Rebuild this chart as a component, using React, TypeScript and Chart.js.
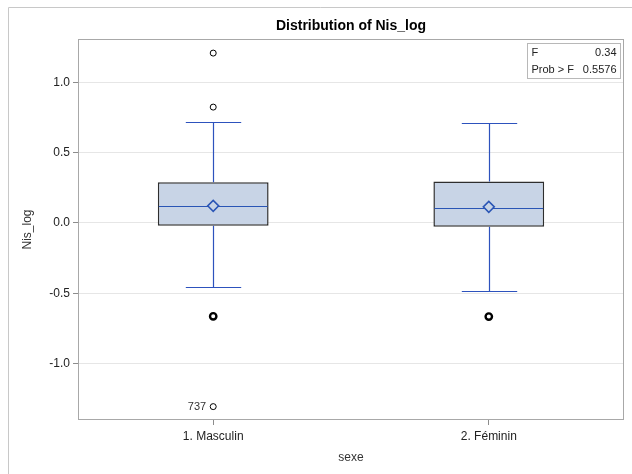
import React, { useEffect, useRef } from 'react';
import { Chart, registerables } from 'chart.js';

Chart.register(...registerables);

// ---- data ----
const categories = ['1. Masculin', '2. Féminin'];
const q1 = [-0.021, -0.028];
const q3 = [0.289, 0.294];
const medians = [0.118, 0.103];
const means = [0.121, 0.114];
const whiskerLow = [-0.455, -0.484];
const whiskerHigh = [0.72, 0.711];
const outliersMasculin = [1.207, 0.823, -1.306];
const outliersFeminin: number[] = [];
// tied observations (several points plotted on top of each other)
const tiedOutliersMasculin = [-0.664];
const tiedOutliersFeminin = [-0.666];
const outlierIdLabel = { category: 1, value: -1.306, text: '737' };
const yTicks = [-1.0, -0.5, 0.0, 0.5, 1.0];
const yMin = -1.394;
const yMax = 1.3;
const xMin = 0.513;
const xMax = 2.487;
const fValue = '0.34';
const probF = '0.5576';
const titleText = 'Distribution of Nis_log';
const yTitle = 'Nis_log';
const xTitle = 'sexe';

const FONT = '"Liberation Sans", Arial, Helvetica, sans-serif';

export default function App() {
  const ref = useRef<HTMLCanvasElement>(null);

  useEffect(() => {
    if (!ref.current) return;
    const xs = categories.map((_, i) => i + 1);

    const toPoints = (vals: number[], x: number) => vals.map((v) => ({ x, y: v }));

    const boxPlugin = {
      id: 'boxParts',
      afterDatasetDraw(chart: any, args: any) {
        if (args.index !== 0) return;
        const ctx = chart.ctx;
        const xS = chart.scales.x;
        const yS = chart.scales.y;
        const meta = chart.getDatasetMeta(0);
        ctx.save();
        for (let i = 0; i < xs.length; i++) {
          const bar = meta.data[i];
          const w = bar.width;
          const cx = Math.round(xS.getPixelForValue(xs[i])) + 0.5;
          const yq3 = yS.getPixelForValue(q3[i]);
          const yq1 = yS.getPixelForValue(q1[i]);
          const yHi = Math.round(yS.getPixelForValue(whiskerHigh[i])) + 0.5;
          const yLo = Math.round(yS.getPixelForValue(whiskerLow[i])) + 0.5;
          ctx.strokeStyle = '#2d52bd';
          ctx.lineWidth = 1.2;
          ctx.beginPath();
          ctx.moveTo(cx, yq3);
          ctx.lineTo(cx, yHi);
          ctx.moveTo(cx, yq1);
          ctx.lineTo(cx, yLo);
          ctx.moveTo(cx - w / 4, yHi);
          ctx.lineTo(cx + w / 4, yHi);
          ctx.moveTo(cx - w / 4, yLo);
          ctx.lineTo(cx + w / 4, yLo);
          ctx.stroke();
          const ym = Math.round(yS.getPixelForValue(medians[i])) + 0.5;
          ctx.strokeStyle = '#2a55b5';
          ctx.lineWidth = 1.2;
          ctx.beginPath();
          ctx.moveTo(bar.x - w / 2 + 1, ym);
          ctx.lineTo(bar.x + w / 2 - 1, ym);
          ctx.stroke();
        }
        ctx.restore();
      },
      afterDraw(chart: any) {
        const ctx = chart.ctx;
        const a = chart.chartArea;
        const xS = chart.scales.x;
        const yS = chart.scales.y;
        ctx.save();
        // outer frame
        ctx.strokeStyle = '#c8c8c8';
        ctx.lineWidth = 1;
        ctx.beginPath();
        ctx.moveTo(8.5, 474);
        ctx.lineTo(8.5, 7.5);
        ctx.lineTo(632, 7.5);
        ctx.stroke();
        // plot frame
        ctx.strokeStyle = '#a8a8a8';
        ctx.strokeRect(a.left - 0.5, a.top - 0.5, a.right - a.left + 1, a.bottom - a.top + 1);
        // title
        ctx.fillStyle = '#000';
        ctx.font = `bold 14px ${FONT}`;
        ctx.textAlign = 'center';
        ctx.textBaseline = 'middle';
        ctx.fillText(titleText, (a.left + a.right) / 2, 26);
        // axis titles
        ctx.font = `12px ${FONT}`;
        ctx.fillStyle = '#333';
        ctx.fillText(xTitle, (a.left + a.right) / 2, 458);
        ctx.save();
        ctx.translate(28, (a.top + a.bottom) / 2);
        ctx.rotate(-Math.PI / 2);
        ctx.fillText(yTitle, 0, 0);
        ctx.restore();
        // inset statistics box
        const bx = 527.5, by = 43.5, bw = 93, bh = 35;
        ctx.fillStyle = '#fff';
        ctx.fillRect(bx, by, bw, bh);
        ctx.strokeStyle = '#b8b8b8';
        ctx.strokeRect(bx, by, bw, bh);
        ctx.fillStyle = '#222';
        ctx.font = `11px ${FONT}`;
        ctx.textAlign = 'left';
        ctx.fillText('F', bx + 4, by + 9);
        ctx.fillText('Prob > F', bx + 4, by + 26);
        ctx.textAlign = 'right';
        ctx.fillText(fValue, bx + bw - 4, by + 9);
        ctx.fillText(probF, bx + bw - 4, by + 26);
        // outlier id label
        const px = xS.getPixelForValue(outlierIdLabel.category);
        const py = yS.getPixelForValue(outlierIdLabel.value);
        ctx.fillStyle = '#333';
        ctx.font = `11px ${FONT}`;
        ctx.textAlign = 'right';
        ctx.fillText(outlierIdLabel.text, px - 7, py);
        ctx.restore();
      },
    };

    const chart = new Chart(ref.current, {
      type: 'bar',
      data: {
        datasets: [
          {
            type: 'bar',
            data: xs.map((x, i) => ({ x, y: [q1[i], q3[i]] })) as any,
            backgroundColor: '#c8d4e6',
            borderColor: '#2e2e2e',
            borderWidth: 1.5,
            borderSkipped: false,
            barPercentage: 0.402,
            categoryPercentage: 1,
            order: 3,
          } as any,
          {
            type: 'scatter',
            data: means.map((m, i) => ({ x: xs[i], y: m })),
            pointStyle: 'rectRot',
            pointRadius: 5.5,
            pointBorderColor: '#2a55b5',
            pointBackgroundColor: 'rgba(200,212,230,1)',
            pointBorderWidth: 1.5,
            order: 2,
          } as any,
          {
            type: 'scatter',
            data: [...toPoints(outliersMasculin, 1), ...toPoints(outliersFeminin, 2)],
            pointStyle: 'circle',
            pointRadius: 3,
            pointBorderColor: '#000',
            pointBackgroundColor: '#fff',
            pointBorderWidth: 1,
            order: 1,
          } as any,
          {
            type: 'scatter',
            data: [...toPoints(tiedOutliersMasculin, 1), ...toPoints(tiedOutliersFeminin, 2)],
            pointStyle: 'circle',
            pointRadius: 3.2,
            pointBorderColor: '#000',
            pointBackgroundColor: '#fff',
            pointBorderWidth: 2.4,
            order: 0,
          } as any,
        ],
      },
      options: {
        animation: false,
        responsive: false,
        events: [],
        layout: { padding: { left: 0, right: 9, top: 40, bottom: 0 } },
        plugins: { legend: { display: false }, tooltip: { enabled: false }, title: { display: false } },
        scales: {
          x: {
            type: 'linear',
            min: xMin,
            max: xMax,
            offset: false,
            grid: { offset: false, drawOnChartArea: false, tickLength: 6, tickColor: '#8c8c8c' },
            border: { display: false },
            afterBuildTicks: (s: any) => {
              s.ticks = xs.map((v) => ({ value: v }));
            },
            afterFit: (s: any) => {
              s.height = 55;
            },
            ticks: {
              callback: (v: any) => categories[Number(v) - 1] ?? '',
              font: { family: FONT, size: 12 },
              color: '#222',
              padding: 4,
              maxRotation: 0,
              autoSkip: false,
            },
          },
          y: {
            type: 'linear',
            min: yMin,
            max: yMax,
            grid: { color: '#e6e6e6', tickLength: 6, tickColor: '#8c8c8c' },
            border: { display: false },
            afterBuildTicks: (s: any) => {
              s.ticks = yTicks.map((v) => ({ value: v }));
            },
            afterFit: (s: any) => {
              s.width = 79;
            },
            ticks: {
              callback: (v: any) => Number(v).toFixed(1),
              font: { family: FONT, size: 12 },
              color: '#222',
              padding: 3,
            },
          },
        },
      } as any,
      plugins: [boxPlugin],
    });

    return () => chart.destroy();
  }, []);

  return (
    <div style={{ position: 'fixed', left: 0, top: 0, width: 632, height: 474, background: '#fff' }}>
      <canvas ref={ref} width={632} height={474} style={{ display: 'block' }} />
    </div>
  );
}
